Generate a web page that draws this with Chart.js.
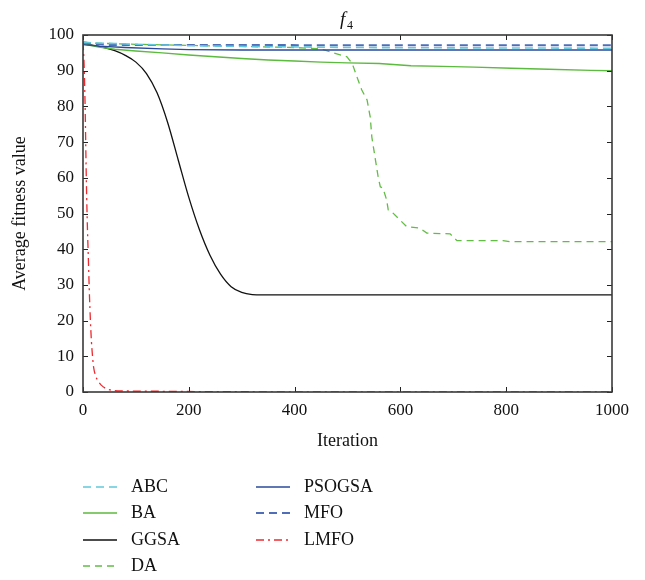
<!DOCTYPE html>
<html>
<head>
<meta charset="utf-8">
<script src="https://cdn.jsdelivr.net/npm/chart.js@4/dist/chart.umd.min.js"></script>
<style>
  html, body { margin: 0; padding: 0; background: #fff; }
  #wrap { width: 645px; height: 580px; }
</style>
</head>
<body>
<div id="wrap"><canvas id="chart" width="645" height="580"></canvas></div>
<script>
// convergence curves, average fitness per iteration
const abcIter = [0, 20, 60, 100, 200, 300, 500, 700, 1000];
const abcFit = [98.0, 97.8, 97.6, 97.4, 97.0, 96.8, 96.5, 96.4, 96.3];

const baIter = [0, 30, 60, 100, 150, 200, 250, 300, 350, 400, 450, 500, 560, 620, 680, 740, 810, 880, 960, 1000];
const baFit = [97.5, 96.6, 96.0, 95.5, 95.0, 94.4, 93.9, 93.4, 93.0, 92.7, 92.4, 92.2, 92.0, 91.4, 91.2, 91.0, 90.7, 90.4, 90.1, 90.0];

const ggsaIter = [0, 20, 40, 60, 80, 100, 120, 140, 160, 180, 200, 220, 240, 260, 280, 300, 320, 340, 1000];
const ggsaFit = [97.5, 97.1, 96.5, 95.6, 94.3, 92.4, 89.2, 83.8, 75.5, 65.0, 54.5, 45.5, 38.3, 33.0, 29.5, 27.9, 27.3, 27.2, 27.2];

const daIter = [0, 100, 200, 300, 400, 450, 473, 499, 509, 518, 527, 537, 543, 546, 552, 558, 562, 567, 574, 577, 584, 599, 612, 637, 650, 694, 707, 794, 807, 1000];
const daFit = [97.8, 97.4, 97.1, 96.8, 96.5, 96.1, 95.0, 93.9, 92.0, 88.2, 84.6, 81.8, 77.0, 71.4, 65.8, 60.2, 57.5, 57.1, 53.8, 51.0, 50.4, 48.2, 46.3, 45.9, 44.5, 44.3, 42.4, 42.4, 42.1, 42.1];

const psogsaIter = [0, 30, 80, 150, 200, 300, 1000];
const psogsaFit = [97.3, 96.9, 96.5, 96.1, 95.9, 95.8, 95.8];

const mfoIter = [0, 20, 50, 1000];
const mfoFit = [98.0, 97.5, 97.2, 97.1];

const lmfoIter = [0, 2, 4, 6, 8, 10, 12, 14, 16, 18, 20, 24, 28, 34, 42, 55, 80, 150, 250, 400, 1000];
const lmfoFit = [98, 92, 80, 62, 48, 38, 28, 20, 14, 10, 7, 4.5, 3.2, 2.0, 1.1, 0.5, 0.3, 0.2, 0.1, 0.05, 0.05];

const xTicks = [0, 200, 400, 600, 800, 1000];
const yTicks = [0, 10, 20, 30, 40, 50, 60, 70, 80, 90, 100];

const SERIF = '"Liberation Serif", "DejaVu Serif", serif';

function pts(xs, ys) { return xs.map((x, i) => ({ x, y: ys[i] })); }

function series(label, xs, ys, color, dash, width, smooth) {
  return {
    label,
    data: pts(xs, ys),
    borderColor: color,
    backgroundColor: color,
    borderDash: dash,
    borderWidth: width,
    pointRadius: 0,
    fill: false,
    cubicInterpolationMode: smooth ? 'monotone' : 'default',
    tension: 0,
  };
}

const datasets = [
  series('LMFO', lmfoIter, lmfoFit, '#ee2a2f', [8, 4, 2, 4], 1.3, true),
  series('ABC', abcIter, abcFit, '#62c8dc', [8, 5], 1.6, false),
  series('MFO', mfoIter, mfoFit, '#4e6fb8', [8, 5], 2, false),
  series('PSOGSA', psogsaIter, psogsaFit, '#2b4a9c', [], 1.3, false),
  series('BA', baIter, baFit, '#5cba3e', [], 1.4, false),
  series('DA', daIter, daFit, '#62bd45', [7, 5], 1.3, false),
  series('GGSA', ggsaIter, ggsaFit, '#111111', [], 1.3, true),
];

const legendCols = [['ABC', 'BA', 'GGSA', 'DA'], ['PSOGSA', 'MFO', 'LMFO']];

// frame, inward ticks, title and legend
const decor = {
  id: 'decor',
  afterDatasetsDraw(chart) {
    const { ctx, chartArea: a, scales: { x, y } } = chart;
    ctx.save();
    ctx.strokeStyle = '#222';
    ctx.lineWidth = 1;
    const tl = 5;
    xTicks.forEach((v) => {
      const px = Math.round(x.getPixelForValue(v)) + 0.5;
      ctx.beginPath();
      ctx.moveTo(px, a.bottom); ctx.lineTo(px, a.bottom - tl);
      ctx.moveTo(px, a.top); ctx.lineTo(px, a.top + tl);
      ctx.stroke();
    });
    yTicks.forEach((v) => {
      const py = Math.round(y.getPixelForValue(v)) + 0.5;
      ctx.beginPath();
      ctx.moveTo(a.left, py); ctx.lineTo(a.left + tl, py);
      ctx.moveTo(a.right, py); ctx.lineTo(a.right - tl, py);
      ctx.stroke();
    });
    ctx.strokeStyle = '#3a3a3a';
    ctx.lineWidth = 1.6;
    ctx.strokeRect(a.left, a.top, a.right - a.left, a.bottom - a.top);

    // title f4
    ctx.fillStyle = '#111';
    ctx.textBaseline = 'alphabetic';
    ctx.textAlign = 'left';
    ctx.font = 'italic 19px ' + SERIF;
    ctx.fillText('f', 340, 25);
    ctx.font = '12px ' + SERIF;
    ctx.fillText('4', 347, 29);

    // legend
    const colX = [83, 256];
    const rowY = [487, 513, 540, 566];
    ctx.font = '18px ' + SERIF;
    ctx.textBaseline = 'middle';
    legendCols.forEach((col, ci) => {
      col.forEach((name, ri) => {
        const ds = chart.data.datasets.find((d) => d.label === name);
        const yy = rowY[ri];
        ctx.strokeStyle = ds.borderColor;
        ctx.lineWidth = Math.max(1.5, ds.borderWidth);
        ctx.setLineDash(ds.borderDash);
        ctx.beginPath();
        ctx.moveTo(colX[ci], yy);
        ctx.lineTo(colX[ci] + 34, yy);
        ctx.stroke();
        ctx.setLineDash([]);
        ctx.fillStyle = '#111';
        ctx.fillText(name, colX[ci] + 48, rowY[ri]);
      });
    });
    ctx.restore();
  },
};

new Chart(document.getElementById('chart'), {
  type: 'line',
  data: { datasets },
  options: {
    responsive: false,
    animation: false,
    layout: { padding: { left: 0, top: 35, right: 33, bottom: 120 } },
    plugins: { legend: { display: false }, tooltip: { enabled: false } },
    scales: {
      x: {
        type: 'linear',
        min: 0,
        max: 1000,
        afterFit: (s) => { s.height = 68; },
        afterBuildTicks: (s) => { s.ticks = xTicks.map((v) => ({ value: v })); },
        grid: { display: false, drawTicks: false },
        border: { display: false },
        ticks: { color: '#111', padding: 8, maxRotation: 0, callback: (v) => String(v), font: { family: SERIF, size: 17 } },
        title: { display: true, text: 'Iteration', color: '#111', padding: { top: 0, bottom: 8 }, font: { family: SERIF, size: 18 } },
      },
      y: {
        min: 0,
        max: 100,
        afterFit: (s) => { s.width = 83; },
        afterBuildTicks: (s) => { s.ticks = yTicks.map((v) => ({ value: v })); },
        grid: { display: false, drawTicks: false },
        border: { display: false },
        ticks: { color: '#111', padding: 9, callback: (v) => String(v), font: { family: SERIF, size: 17 } },
        title: { display: true, text: 'Average fitness value', color: '#111', padding: { top: 9, bottom: 0 }, font: { family: SERIF, size: 18 } },
      },
    },
  },
  plugins: [decor],
});
</script>
</body>
</html>
